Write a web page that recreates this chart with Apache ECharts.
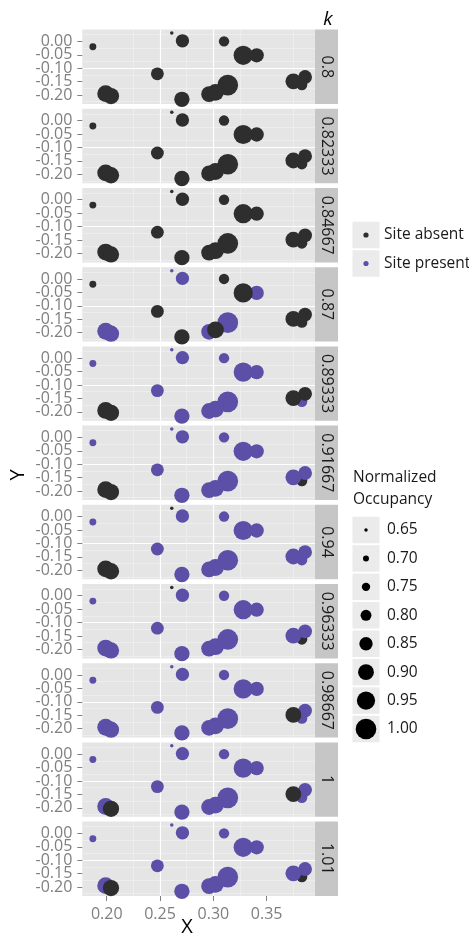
<!DOCTYPE html>
<html><head><meta charset="utf-8">
<script src="https://cdn.jsdelivr.net/npm/echarts@6/dist/echarts.min.js"></script>
<style>html,body{margin:0;padding:0;background:#fff}#c{width:469px;height:938px}</style>
</head><body><div id="c"></div>
<script>
// ---- data ----
const kLabels = ['0.8','0.82333','0.84667','0.87','0.89333','0.91667','0.94','0.96333','0.98667','1','1.01'];
// sites in drawing order
const siteX = [0.187, 0.261, 0.271, 0.310, 0.2475, 0.2705, 0.199, 0.204, 0.296, 0.3135, 0.302, 0.3406, 0.328, 0.383, 0.386, 0.375];
const siteY = [-0.020, 0.031, 0.002, 0.000, -0.121, -0.216, -0.195, -0.204, -0.197, -0.163, -0.190, -0.052, -0.052, -0.162, -0.133, -0.149];
const occupancy = [0.72, 0.65, 0.85, 0.79, 0.84, 0.89, 0.92, 0.91, 0.90, 1.00, 0.92, 0.87, 0.97, 0.80, 0.86, 0.90];
// 1 = site present, 0 = site absent; one row per k panel
const presence = [
  [0,0,0,0,0,0,0,0,0,0,0,0,0,0,0,0],
  [0,0,0,0,0,0,0,0,0,0,0,0,0,0,0,0],
  [0,0,0,0,0,0,0,0,0,0,0,0,0,0,0,0],
  [0,1,1,0,0,0,1,1,1,1,0,1,0,0,0,0],
  [1,1,1,1,1,1,0,0,1,1,1,1,1,1,0,0],
  [1,1,1,1,1,1,0,0,1,1,1,1,1,0,1,1],
  [1,0,1,1,1,1,0,0,1,1,1,1,1,1,1,1],
  [1,0,1,1,1,1,1,1,1,1,1,1,1,0,1,1],
  [1,1,1,1,1,1,1,1,1,1,1,1,1,1,1,0],
  [1,1,1,1,1,1,1,0,1,1,1,1,1,1,1,0],
  [1,1,1,1,1,1,1,0,1,1,1,1,1,0,1,1]
];
const xTicks = [0.20, 0.25, 0.30, 0.35];
const yTicksEven = [-0.20, -0.10, 0.00];
const yTicksOdd = [-0.15, -0.05];
const sizeBreaks = [0.65, 0.70, 0.75, 0.80, 0.85, 0.90, 0.95, 1.00];
const colorLabels = ['Site absent', 'Site present'];

// ---- style / layout ----
const COLORS = ['#2E2E2E', '#5B4FA8'];
const FONT = '"Open Sans", "DejaVu Sans", sans-serif';
const L = {left: 82.3, width: 232.7, top: 29.6, pitch: 79.2, height: 74.4, stripW: 23};
const X_MIN = 0.1771, X_MAX = 0.3953, Y_MIN = -0.2336, Y_MAX = 0.0438;
function dia(v) { return 3.5 + (v - 0.65) / 0.35 * 17.2; }

const grids = [], xAxes = [], yAxes = [], series = [], graphics = [];
const n = kLabels.length;
function yAxisDef(i, ticks, grid) {
  return {type: 'value', gridIndex: i, min: Y_MIN, max: Y_MAX, splitNumber: 5, position: 'left', offset: 0,
    axisLine: {show: false, onZero: false},
    axisTick: {show: true, length: 5, lineStyle: {color: '#808080', width: 1}, customValues: ticks},
    axisLabel: {show: true, color: '#7F7F7F', fontSize: 16, fontFamily: FONT, margin: 10,
      showMinLabel: true, showMaxLabel: true, hideOverlap: false,
      customValues: ticks, formatter: v => v.toFixed(2)},
    splitLine: {show: grid, showMinLine: false, showMaxLine: false, lineStyle: {color: '#FFFFFF', width: 1.2}},
    minorTick: {show: false, splitNumber: 2},
    minorSplitLine: {show: grid, lineStyle: {color: '#F2F2F2', width: 0.6}}
  };
}
for (let i = 0; i < n; i++) {
  const top = L.top + i * L.pitch;
  const last = i === n - 1;
  grids.push({left: L.left, top: top, width: L.width, height: L.height,
    show: true, backgroundColor: '#E5E5E5', borderWidth: 0, containLabel: false});
  xAxes.push({type: 'value', gridIndex: i, min: X_MIN, max: X_MAX, splitNumber: 4, position: 'bottom',
    axisLine: {show: false, onZero: false},
    axisTick: {show: last, length: 5, lineStyle: {color: '#808080', width: 1}, customValues: xTicks},
    axisLabel: {show: last, color: '#7F7F7F', fontSize: 16, fontFamily: FONT, margin: 10,
      showMinLabel: true, showMaxLabel: true, hideOverlap: false,
      customValues: xTicks, formatter: v => v.toFixed(2)},
    splitLine: {show: true, showMinLine: false, showMaxLine: false, lineStyle: {color: '#FFFFFF', width: 1.2}},
    minorTick: {show: false, splitNumber: 2},
    minorSplitLine: {show: true, lineStyle: {color: '#F2F2F2', width: 0.6}}
  });
  yAxes.push(yAxisDef(i, yTicksEven, true));
  yAxes.push(yAxisDef(i, yTicksOdd, false));
  const data = siteX.map((x, j) => ({
    value: [x, siteY[j], occupancy[j]],
    itemStyle: {color: COLORS[presence[i][j]]}
  }));
  series.push({type: 'scatter', xAxisIndex: i, yAxisIndex: 2 * i, data: data,
    symbolSize: v => dia(v[2]), clip: true, silent: true,
    itemStyle: {opacity: 1, borderWidth: 0}});
  // strip
  graphics.push({type: 'rect', shape: {x: L.left + L.width, y: top, width: L.stripW, height: L.height},
    style: {fill: '#C6C6C6'}, silent: true});
  graphics.push({type: 'text', x: L.left + L.width + L.stripW / 2, y: top + L.height / 2,
    rotation: -Math.PI / 2,
    style: {text: kLabels[i], fill: '#1A1A1A', font: '16px ' + FONT, align: 'center', verticalAlign: 'middle'}});
}
// facet title
graphics.push({type: 'text', x: 328, y: 20,
  style: {text: 'k', fill: '#000', font: 'italic 19px ' + FONT, align: 'center', verticalAlign: 'middle'}});
// axis titles
graphics.push({type: 'text', x: 187, y: 927,
  style: {text: 'X', fill: '#000', font: '20px ' + FONT, align: 'center', verticalAlign: 'middle'}});
graphics.push({type: 'text', x: 18, y: 475, rotation: Math.PI / 2,
  style: {text: 'Y', fill: '#000', font: '20px ' + FONT, align: 'center', verticalAlign: 'middle'}});
// colour legend
const KEY = {x: 352.5, w: 27, h: 26.5, pitch: 28.5};
colorLabels.forEach((lab, j) => {
  const cy = 235 + j * KEY.pitch;
  graphics.push({type: 'rect', shape: {x: KEY.x, y: cy - KEY.h / 2, width: KEY.w, height: KEY.h}, style: {fill: '#EBEBEB'}});
  graphics.push({type: 'circle', shape: {cx: KEY.x + KEY.w / 2, cy: cy, r: 2.6}, style: {fill: COLORS[j]}});
  graphics.push({type: 'text', x: 384, y: cy,
    style: {text: lab, fill: '#1A1A1A', font: '15.5px ' + FONT, align: 'left', verticalAlign: 'middle'}});
});
// size legend
graphics.push({type: 'text', x: 353, y: 478,
  style: {text: 'Normalized', fill: '#1A1A1A', font: '15.5px ' + FONT, align: 'left', verticalAlign: 'middle'}});
graphics.push({type: 'text', x: 353, y: 500,
  style: {text: 'Occupancy', fill: '#1A1A1A', font: '15.5px ' + FONT, align: 'left', verticalAlign: 'middle'}});
sizeBreaks.forEach((v, j) => {
  const cy = 530 + j * 28.43;
  graphics.push({type: 'rect', shape: {x: KEY.x, y: cy - KEY.h / 2, width: KEY.w, height: KEY.h}, style: {fill: '#EBEBEB'}});
  graphics.push({type: 'circle', shape: {cx: KEY.x + KEY.w / 2, cy: cy, r: dia(v) / 2}, style: {fill: '#000'}});
  graphics.push({type: 'text', x: 387, y: cy,
    style: {text: v.toFixed(2), fill: '#1A1A1A', font: '15.5px ' + FONT, align: 'left', verticalAlign: 'middle'}});
});

const chart = echarts.init(document.getElementById('c'), null, {renderer: 'canvas'});
chart.setOption({
  animation: false,
  backgroundColor: '#FFFFFF',
  grid: grids, xAxis: xAxes, yAxis: yAxes, series: series,
  graphic: {elements: graphics}
});
</script></body></html>
